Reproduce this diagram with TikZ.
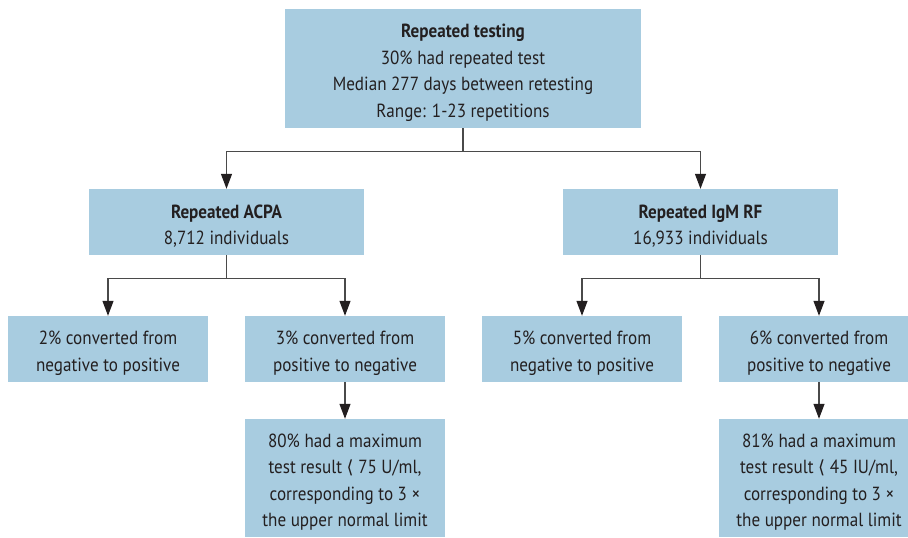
\documentclass[tikz,border=0pt]{standalone}
\usepackage{fontspec}
\setmainfont{PT Sans}[FakeStretch=0.9]
\newfontfamily\symfont{DejaVu Sans}
\usetikzlibrary{arrows.meta}
\definecolor{boxblue}{HTML}{A8CCE0}
\definecolor{txt}{HTML}{231F20}
\definecolor{ln}{HTML}{4A4A4A}
\newcommand{\ltsym}{{\symfont\fontsize{18}{18}\selectfont\char"27E8}}
\newcommand{\tstrut}{\rule{0pt}{22pt}}
\begin{document}
\begin{tikzpicture}[x=1pt,y=-1pt,
  box/.style={fill=boxblue,draw=none,inner sep=0pt,align=center,text=txt,
    font=\fontsize{19}{26.5}\selectfont},
  conn/.style={draw=ln,line width=1.2pt},
  arr/.style={conn,-{Triangle[length=15pt,width=11pt,color=txt]}}]
\useasboundingbox (0,0) rectangle (908,538);
\clip (0,0) rectangle (908,538);
\node[box,minimum width=356pt,minimum height=119pt] (top) at (463,68.5)
  {\tstrut\textbf{Repeated testing}\\30\% had repeated test\\Median 277 days between retesting\\Range: 1-23 repetitions};
\node[box,minimum width=275pt,minimum height=66pt] (ml) at (226.5,222)
  {\tstrut\textbf{Repeated ACPA}\\8,712 individuals};
\node[box,minimum width=275pt,minimum height=66pt] (mr) at (700.5,222)
  {\tstrut\textbf{Repeated IgM RF}\\16,933 individuals};
\node[box,minimum width=200pt,minimum height=66pt] (a1) at (108,349)
  {\tstrut 2\% converted from\\negative to positive};
\node[box,minimum width=200pt,minimum height=66pt] (a2) at (345,349)
  {\tstrut 3\% converted from\\positive to negative};
\node[box,minimum width=200pt,minimum height=66pt] (b1) at (582,349)
  {\tstrut 5\% converted from\\negative to positive};
\node[box,minimum width=200pt,minimum height=66pt] (b2) at (819,349)
  {\tstrut 6\% converted from\\positive to negative};
\node[box,minimum width=200pt,minimum height=118pt] (a3) at (345,478)
  {\tstrut 80\% had a maximum\\test result \ltsym\ 75 U/ml,\\corresponding to 3 \texttimes\\the upper normal limit};
\node[box,minimum width=200pt,minimum height=118pt] (b3) at (819,478)
  {\tstrut 81\% had a maximum\\test result \ltsym\ 45 IU/ml,\\corresponding to 3 \texttimes\\the upper normal limit};
\draw[conn] (top.south) -- ++(0,23) coordinate (j0);
\draw[arr] (j0) -| (ml.north);
\draw[arr] (j0) -| (mr.north);
\draw[conn] (ml.south) -- ++(0,23) coordinate (j1);
\draw[arr] (j1) -| (a1.north);
\draw[arr] (j1) -| (a2.north);
\draw[conn] (mr.south) -- ++(0,23) coordinate (j2);
\draw[arr] (j2) -| (b1.north);
\draw[arr] (j2) -| (b2.north);
\draw[arr] (a2.south) -- (a3.north);
\draw[arr] (b2.south) -- (b3.north);
\end{tikzpicture}
\end{document}
